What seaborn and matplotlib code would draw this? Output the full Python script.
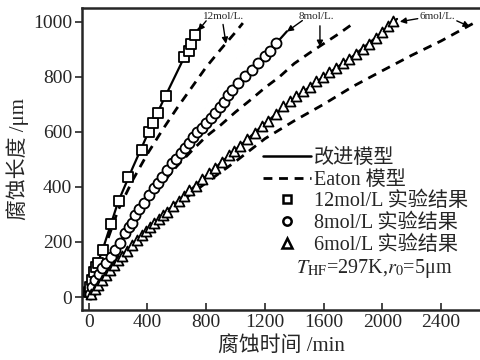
import matplotlib
matplotlib.use("Agg")
import matplotlib.pyplot as plt
import seaborn as sns
from matplotlib.lines import Line2D

# improved model (solid) curves
t_12_model = [0, 50, 100, 200, 300, 400, 500, 600, 700, 750]
y_12_model = [0, 105, 180, 345, 470, 590, 705, 815, 925, 975]
t_8_model = [0, 50, 100, 200, 300, 400, 500, 600, 700, 800, 900, 1000, 1100, 1200, 1300, 1350]
y_8_model = [0, 70, 115, 190, 275, 360, 435, 505, 570, 632, 695, 765, 820, 874, 935, 965]
t_6_model = [0, 100, 200, 400, 600, 800, 1000, 1200, 1400, 1600, 1800, 2000, 2100]
y_6_model = [0, 70, 133, 245, 345, 440, 535, 630, 722, 800, 875, 962, 1010]

# Eaton model (dashed) curves
t_12_eaton = [0, 100, 200, 300, 400, 500, 600, 700, 800, 900, 1000, 1050]
y_12_eaton = [0, 165, 315, 425, 520, 605, 685, 760, 835, 900, 962, 995]
t_8_eaton = [0, 100, 200, 300, 400, 500, 600, 700, 800, 900, 1000, 1100, 1200, 1300, 1400, 1500, 1600, 1700, 1800]
y_8_eaton = [0, 110, 190, 270, 345, 412, 475, 530, 583, 625, 672, 715, 760, 800, 848, 885, 920, 955, 993]
t_6_eaton = [0, 200, 400, 600, 800, 1000, 1200, 1400, 1600, 1800, 2000, 2200, 2400, 2640]
y_6_eaton = [0, 130, 240, 335, 415, 492, 575, 640, 700, 765, 822, 878, 930, 1000]

# experimental results
t_12_exp = [5, 12, 22, 35, 48, 62, 95, 150, 205, 265, 360, 410, 440, 470, 525, 650, 680, 700, 725]
y_12_exp = [20, 35, 60, 92, 110, 125, 170, 265, 350, 435, 535, 600, 632, 668, 730, 872, 892, 920, 952]
t_8_exp = [10, 25, 45, 68, 90, 120, 150, 180, 210, 250, 273, 296, 318, 345, 374, 410, 445, 475, 502,
           535, 569, 598, 626, 655, 683, 711, 739, 770, 800, 832, 863, 892, 920, 947, 974, 1019, 1064,
           1110, 1155, 1200, 1234, 1279]
y_8_exp = [12, 35, 62, 85, 105, 125, 145, 170, 196, 232, 255, 268, 298, 318, 341, 370, 395, 415, 437,
           462, 486, 503, 522, 541, 561, 580, 599, 615, 631, 652, 670, 690, 710, 733, 753, 777, 801,
           825, 850, 874, 892, 922]
t_6_exp = [15, 40, 61, 88, 116, 144, 172, 200, 230, 262, 296, 330, 363, 392, 420, 448, 477, 506, 535,
           573, 612, 648, 683, 728, 773, 818, 863, 908, 954, 992, 1031, 1080, 1132, 1178, 1223, 1274,
           1324, 1370, 1414, 1460, 1505, 1550, 1595, 1640, 1685, 1730, 1775, 1820, 1865, 1910, 1955,
           2000, 2040, 2070]
y_6_exp = [10, 28, 42, 62, 80, 98, 116, 133, 150, 168, 189, 207, 225, 241, 256, 270, 283, 298, 310,
           332, 350, 368, 388, 405, 428, 449, 470, 492, 515, 532, 550, 573, 597, 620, 640, 664,
           695, 712, 730, 747, 764, 783, 800, 816, 832, 849, 866, 883, 900, 920, 942,
           963, 985, 1002]

x_ticks = [0, 400, 800, 1200, 1600, 2000, 2400]
y_ticks = [0, 200, 400, 600, 800, 1000]
legend_labels = ["改进模型", "Eaton 模型", "12mol/L 实验结果", "8mol/L 实验结果", "6mol/L 实验结果"]

sns.set_theme(style="ticks")
plt.rcParams['font.family'] = ['Liberation Serif', 'Noto Sans CJK SC']
plt.rcParams['mathtext.fontset'] = 'stix'

fig = plt.figure(figsize=(4.8, 3.6), dpi=100)
ax = fig.add_axes([0.171, 0.139, 0.829, 0.839])

dash = (0, (3.2, 2.4))
for t, y in [(t_12_eaton, y_12_eaton), (t_8_eaton, y_8_eaton), (t_6_eaton, y_6_eaton)]:
    sns.lineplot(x=t, y=y, ax=ax, color='black', lw=2.0, linestyle=dash, sort=False)
for t, y in [(t_12_model, y_12_model), (t_8_model, y_8_model), (t_6_model, y_6_model)]:
    sns.lineplot(x=t, y=y, ax=ax, color='black', lw=1.6, sort=False)

for t, y, m in [(t_12_exp, y_12_exp, 's'), (t_8_exp, y_8_exp, 'o'), (t_6_exp, y_6_exp, '^')]:
    sns.scatterplot(x=t, y=y, ax=ax, marker=m, s=52, facecolor='white',
                    edgecolor='black', linewidth=1.3, zorder=3)

# concentration labels with arrows
arr = dict(arrowstyle='-|>', color='black', lw=1.0, mutation_scale=9, shrinkA=0, shrinkB=0)
ax.text(921, 1018, "12mol/L.", fontsize=8, ha='center', va='center')
ax.annotate('', xy=(745, 967), xytext=(800, 1003), arrowprops=arr)
ax.annotate('', xy=(935, 920), xytext=(915, 990), arrowprops=arr)
ax.text(1548, 1018, "8mol/L.", fontsize=8, ha='center', va='center')
ax.annotate('', xy=(1350, 964), xytext=(1455, 1004), arrowprops=arr)
ax.annotate('', xy=(1575, 909), xytext=(1575, 985), arrowprops=arr)
ax.text(2371, 1018, "6mol/L.", fontsize=8, ha='center', va='center')
ax.annotate('', xy=(2119, 1000), xytext=(2241, 1011), arrowprops=arr)
ax.annotate('', xy=(2595, 982), xytext=(2507, 1003), arrowprops=arr)

handles = [
    Line2D([], [], color='black', lw=1.8),
    Line2D([], [], color='black', lw=2.0, linestyle=dash),
    Line2D([], [], color='black', ls='none', marker='s', ms=6, mfc='white', mew=1.8),
    Line2D([], [], color='black', ls='none', marker='o', ms=6, mfc='white', mew=1.8),
    Line2D([], [], color='black', ls='none', marker='^', ms=6.5, mfc='white', mew=1.8),
]
ax.legend(handles=handles, labels=legend_labels, loc='upper left',
          bbox_to_anchor=(263 / 480, 1 - 149 / 360), bbox_transform=fig.transFigure,
          frameon=False, fontsize=14.5, handlelength=2.4, handletextpad=0.15,
          labelspacing=0.12, borderpad=0, borderaxespad=0)
fig.text(374 / 480, 1 - 268 / 360, r'$T_{\rm HF}$=297K,$r_0$=5μm', fontsize=14.5,
         ha='center', va='center')

ax.set_xlim(-45, 2665)
ax.set_ylim(-47, 1050)
ax.set_xticks(x_ticks)
ax.set_yticks(y_ticks)
ax.tick_params(axis='x', direction='in', length=5, width=1.2, labelsize=14, pad=3)
ax.tick_params(axis='y', direction='out', length=5, width=1.2, labelsize=14, pad=2)
for s in ['left', 'bottom', 'top']:
    ax.spines[s].set_linewidth(1.8)
ax.spines['right'].set_visible(False)
ax.set_xlabel("腐蚀时间 /min", fontsize=15, labelpad=3)
ax.set_ylabel("腐蚀长度 /μm", fontsize=15, labelpad=3)

fig.savefig("out.png", dpi=100)
